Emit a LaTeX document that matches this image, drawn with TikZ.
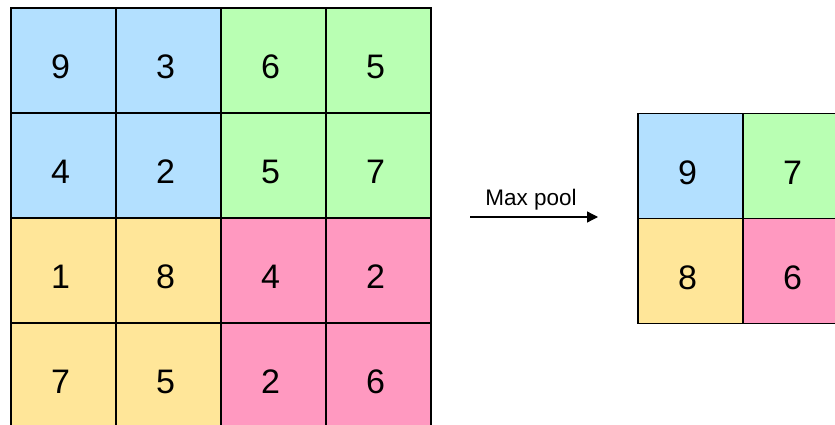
\documentclass[tikz,border=0pt]{standalone}
\usepackage{fontspec}
\setmainfont{Liberation Sans}
\usetikzlibrary{arrows.meta}
\definecolor{cblue}{RGB}{179,224,255}
\definecolor{cgreen}{RGB}{185,255,179}
\definecolor{cyellow}{RGB}{255,230,153}
\definecolor{cpink}{RGB}{255,153,192}
\begin{document}
\begin{tikzpicture}[x=1pt,y=-1pt,
  cell/.style={draw=black,line width=1.6pt,minimum size=105pt,inner sep=0pt,outer sep=0pt,
    font=\fontsize{34}{34}\selectfont,text height=36pt,text depth=0pt,
    execute at end node={\kern6pt}},
  lbl/.style={font=\fontsize{22.5}{22.5}\selectfont,inner sep=0pt}]
\useasboundingbox (0,0) rectangle (835,425);
\clip (0,0) rectangle (835,425);
\fill[white] (0,0) rectangle (835,425);
% left grid
\node[cell,fill=cblue]   (a11) at (63.5,60.5) {9};
\node[cell,fill=cblue]   (a12) at (168.5,60.5) {3};
\node[cell,fill=cgreen]  (a13) at (273.5,60.5) {6};
\node[cell,fill=cgreen]  (a14) at (378.5,60.5) {5};
\node[cell,fill=cblue]   (a21) at (63.5,165.5) {4};
\node[cell,fill=cblue]   (a22) at (168.5,165.5) {2};
\node[cell,fill=cgreen]  (a23) at (273.5,165.5) {5};
\node[cell,fill=cgreen]  (a24) at (378.5,165.5) {7};
\node[cell,fill=cyellow] (a31) at (63.5,270.5) {1};
\node[cell,fill=cyellow] (a32) at (168.5,270.5) {8};
\node[cell,fill=cpink]   (a33) at (273.5,270.5) {4};
\node[cell,fill=cpink]   (a34) at (378.5,270.5) {2};
\node[cell,fill=cyellow] (a41) at (63.5,375.5) {7};
\node[cell,fill=cyellow] (a42) at (168.5,375.5) {5};
\node[cell,fill=cpink]   (a43) at (273.5,375.5) {2};
\node[cell,fill=cpink]   (a44) at (378.5,375.5) {6};
% right grid
\node[cell,fill=cblue]   (b11) at (690.5,166) {9};
\node[cell,fill=cgreen]  (b12) at (795.5,166) {7};
\node[cell,fill=cyellow] (b21) at (690.5,271) {8};
\node[cell,fill=cpink]   (b22) at (795.5,271) {6};
% arrow
\coordinate (s) at (470,217);
\coordinate (e) at (598,217);
\draw[line width=1.3pt,-{Triangle[length=11pt,width=11pt]}] (s) -- (e);
\node[lbl] (t) at (531,200) {Max pool};
\end{tikzpicture}
\end{document}
